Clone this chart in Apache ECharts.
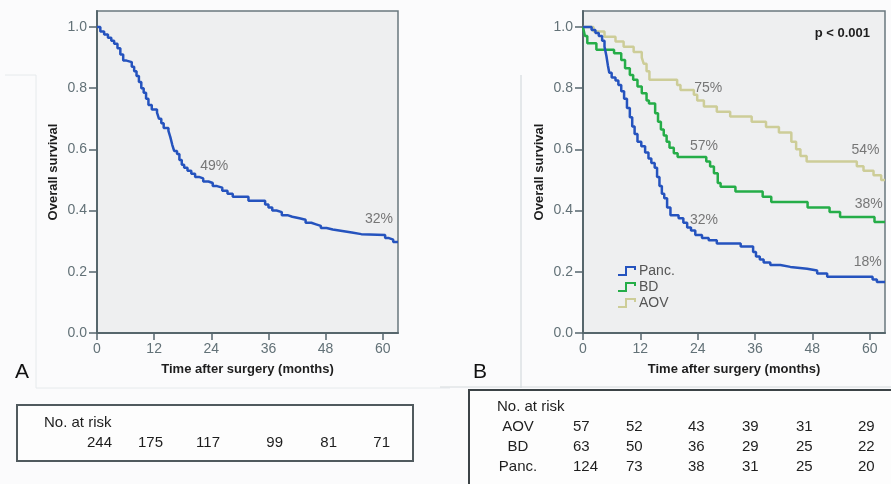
<!DOCTYPE html>
<html><head><meta charset="utf-8">
<script src="https://cdn.jsdelivr.net/npm/echarts@6/dist/echarts.min.js"></script>
<style>html,body{margin:0;padding:0;background:#fbfbfc;} #c{width:891px;height:484px;}</style>
</head><body><div id="c"></div>
<script>
// ---------- data ----------
const monthTicks = [0, 12, 24, 36, 48, 60];
const survivalTicks = [0, 0.2, 0.4, 0.6, 0.8, 1.0];

// [month, survival]
const overall = [[0,1.0],[0.7,0.985],[1.5,0.975],[2.3,0.965],[3.0,0.955],[3.6,0.945],[4.3,0.93],[4.9,0.91],[5.5,0.89],[6.2,0.885],[7.3,0.87],[7.8,0.855],[8.3,0.84],[8.8,0.82],[9.3,0.80],[9.8,0.785],[10.3,0.765],[10.8,0.745],[11.5,0.73],[12.6,0.72],[13.0,0.70],[13.5,0.685],[14.0,0.67],[15.0,0.66],[15.4,0.64],[15.8,0.615],[16.2,0.595],[16.8,0.585],[17.3,0.565],[17.8,0.55],[18.3,0.54],[19.0,0.53],[19.8,0.52],[20.6,0.51],[21.4,0.505],[22.3,0.495],[23.4,0.49],[24.3,0.48],[25.2,0.475],[26.3,0.465],[27.4,0.455],[28.5,0.445],[31.8,0.432],[35.3,0.42],[36.0,0.41],[36.8,0.40],[37.7,0.395],[38.8,0.385],[40.0,0.38],[41.0,0.375],[42.5,0.37],[43.8,0.36],[45.0,0.355],[46.0,0.35],[47.0,0.343],[48.2,0.338],[49.5,0.333],[51.5,0.328],[53.5,0.323],[55.5,0.32],[60.5,0.31],[61.3,0.305],[62.2,0.297],[63.2,0.295]];

const panc = [[0,1.0],[1.8,0.99],[2.6,0.98],[3.3,0.97],[4.0,0.955],[4.5,0.935],[4.9,0.905],[5.2,0.875],[5.5,0.85],[6.0,0.835],[6.8,0.825],[7.4,0.81],[8.0,0.79],[8.6,0.765],[9.2,0.735],[9.8,0.705],[10.3,0.675],[10.8,0.65],[11.4,0.625],[12.2,0.61],[13.0,0.59],[13.7,0.57],[14.3,0.555],[15.0,0.54],[15.5,0.51],[16.0,0.48],[16.5,0.455],[17.0,0.44],[17.6,0.41],[18.3,0.385],[20.0,0.375],[21.0,0.36],[21.8,0.345],[22.6,0.335],[23.5,0.32],[24.9,0.31],[26.3,0.303],[28.0,0.292],[33.0,0.283],[35.6,0.265],[36.2,0.25],[37.0,0.24],[37.8,0.23],[39.2,0.222],[41.3,0.216],[43.4,0.21],[46.9,0.204],[49.0,0.194],[51.1,0.184],[60.6,0.175],[61.5,0.167],[63.2,0.165]];

const bd = [[0,1.0],[0.4,0.97],[0.9,0.947],[2.8,0.925],[6.5,0.914],[8.0,0.892],[8.8,0.865],[9.8,0.843],[10.5,0.827],[11.4,0.805],[12.3,0.783],[13.3,0.76],[13.8,0.75],[15.1,0.718],[15.7,0.69],[16.3,0.665],[16.9,0.645],[17.5,0.625],[18.1,0.605],[19.0,0.587],[19.8,0.575],[25.8,0.56],[26.6,0.544],[27.4,0.522],[28.2,0.49],[28.8,0.478],[31.9,0.462],[37.6,0.445],[39.4,0.428],[47.0,0.41],[51.6,0.395],[53.8,0.379],[61.0,0.363],[63.2,0.363]];

const aov = [[0,1.0],[2.2,0.985],[4.5,0.968],[6.8,0.952],[8.5,0.935],[10.6,0.918],[12.3,0.9],[12.7,0.88],[13.3,0.855],[13.9,0.827],[19.7,0.81],[20.4,0.794],[23.2,0.778],[23.9,0.76],[25.3,0.74],[28.0,0.723],[30.8,0.707],[35.3,0.69],[38.3,0.673],[41.0,0.655],[43.6,0.625],[44.6,0.6],[45.5,0.578],[46.8,0.56],[57.3,0.545],[58.7,0.53],[60.8,0.515],[62.4,0.5],[63.2,0.5]];

const overallLabels = [[24.6, 0.546, '49%'], [59.2, 0.373, '32%']];
const groupLabels = [[26.2, 0.80, '75%'], [25.3, 0.609, '57%'], [25.3, 0.369, '32%'], [59.1, 0.598, '54%'], [59.8, 0.422, '38%'], [59.6, 0.233, '18%']];

const riskOverall = [244, 175, 117, 99, 81, 71];
const riskRowNames = ['AOV', 'BD', 'Panc.'];
const riskAOV = [57, 52, 43, 39, 31, 29];
const riskBD = [63, 50, 36, 29, 25, 22];
const riskPanc = [124, 73, 38, 31, 25, 20];
const legendNames = ['Panc.', 'BD', 'AOV'];

// ---------- style ----------
const AX = '#56666c';
const FONT = 'Liberation Sans, Arial, sans-serif';
const BLUE = '#2553be', GREEN = '#25ad48', KHAKI = '#cdcd98';

function xAx(gi) {
  return {gridIndex: gi, type: 'value', min: 0, max: 63.2,
    name: 'Time after surgery (months)', nameLocation: 'middle', nameGap: 30,
    nameTextStyle: {fontFamily: FONT, fontWeight: 'bold', fontSize: 13, color: '#1e1e1e'},
    axisLine: {show: true, onZero: false, lineStyle: {color: AX, width: 2}},
    axisTick: {show: true, length: 7, lineStyle: {color: AX, width: 1.5}, customValues: monthTicks},
    axisLabel: {customValues: monthTicks, margin: 9, color: '#627177', fontSize: 14, fontFamily: FONT},
    splitLine: {show: false}};
}
function yAx(gi) {
  return {gridIndex: gi, type: 'value', min: 0, max: 1.052,
    name: 'Overall survival', nameLocation: 'middle', nameGap: 37,
    nameTextStyle: {fontFamily: FONT, fontWeight: 'bold', fontSize: 13, color: '#1e1e1e'},
    axisLine: {show: true, onZero: false, lineStyle: {color: AX, width: 2}},
    axisTick: {show: true, length: 8, lineStyle: {color: AX, width: 1.5}, customValues: survivalTicks},
    axisLabel: {customValues: survivalTicks, margin: 10, color: '#627177', fontSize: 14, fontFamily: FONT,
      formatter: v => v.toFixed(1)},
    splitLine: {show: false}};
}
function km(name, data, color, gi) {
  return {name, type: 'line', xAxisIndex: gi, yAxisIndex: gi, data, step: 'end',
    showSymbol: false, symbol: 'none', color, lineStyle: {color, width: 2.5}, silent: true, animation: false};
}
function labels(arr, gi) {
  return {type: 'scatter', xAxisIndex: gi, yAxisIndex: gi, symbolSize: 0, silent: true, animation: false,
    data: arr.map(d => ({value: [d[0], d[1]], label: {formatter: d[2]}})),
    label: {show: true, position: 'inside', color: '#575757', fontSize: 14, fontFamily: FONT}};
}

// table graphics
const g = [];
const txt = (text, x, y, align, extra) => g.push(Object.assign({type: 'text', x, y, silent: true,
  style: {text, font: '15px ' + FONT, fill: '#1e1e1e', align: align, verticalAlign: 'middle'}}, extra || {}));
// faint frame lines of the original figure
g.push({type: 'polyline', silent: true, shape: {points: [[5, 75], [36, 75], [36, 388], [450, 388]]}, style: {stroke: '#e6eaec', lineWidth: 1, fill: null}});
g.push({type: 'line', silent: true, shape: {x1: 521, y1: 75, x2: 521, y2: 388}, style: {stroke: '#cdd4d8', lineWidth: 1}});
g.push({type: 'line', silent: true, shape: {x1: 440, y1: 387, x2: 891, y2: 387}, style: {stroke: '#d5dadd', lineWidth: 1}});
// panel letters
txt('A', 22, 372, 'center', {style: {text: 'A', font: '21px ' + FONT, fill: '#111', align: 'center', verticalAlign: 'middle'}});
txt('B', 480, 372, 'center', {style: {text: 'B', font: '21px ' + FONT, fill: '#111', align: 'center', verticalAlign: 'middle'}});
// p value
g.push({type: 'text', x: 870, y: 33, silent: true, style: {text: 'p < 0.001', font: 'bold 13px ' + FONT, fill: '#1e1e1e', align: 'right', verticalAlign: 'middle'}});
// left risk table
g.push({type: 'rect', silent: true, shape: {x: 17, y: 405, width: 396, height: 56}, style: {fill: '#fdfdfd', stroke: '#505a5e', lineWidth: 2}});
txt('No. at risk', 44, 423, 'left');
const leftColsRight = [112, 163, 220, 283, 337, 390];
riskOverall.forEach((v, i) => txt(String(v), leftColsRight[i], 443, 'right'));
// right risk table
g.push({type: 'rect', silent: true, shape: {x: 469, y: 390, width: 440, height: 110}, style: {fill: '#fdfdfd', stroke: '#3c4346', lineWidth: 2}});
txt('No. at risk', 497, 407, 'left');
const rowY = [427, 447, 467];
const rightColsLeft = [573, 626, 688, 742, 796, 858];
[riskAOV, riskBD, riskPanc].forEach((row, r) => {
  txt(riskRowNames[r], 518, rowY[r], 'center');
  row.forEach((v, i) => txt(String(v), rightColsLeft[i], rowY[r], 'left'));
});

const chart = echarts.init(document.getElementById('c'), null, {renderer: 'canvas'});
chart.setOption({
  animation: false,
  backgroundColor: '#fbfbfc',
  grid: [
    {left: 97, top: 11, width: 301, height: 322, show: true, backgroundColor: '#eeeff0', borderColor: '#6a787d', borderWidth: 1.5},
    {left: 583, top: 11, width: 302, height: 322, show: true, backgroundColor: '#eeeff0', borderColor: '#6a787d', borderWidth: 1.5}
  ],
  xAxis: [xAx(0), xAx(1)],
  yAxis: [yAx(0), yAx(1)],
  legend: {data: legendNames, orient: 'vertical', left: 613, top: 259, itemWidth: 22, itemHeight: 10, itemGap: 2,
    icon: 'path://M0,8 L7,8 L7,0 L18,0 L18,4 L16,4 L16,2 L9,2 L9,10 L0,10 Z',
    textStyle: {fontSize: 14, color: '#555', fontFamily: FONT, padding: [0, 0, 0, -4]}, selectedMode: false},
  series: [
    km('Overall', overall, BLUE, 0),
    km('AOV', aov, KHAKI, 1),
    km('BD', bd, GREEN, 1),
    km('Panc.', panc, BLUE, 1),
    labels(overallLabels, 0),
    labels(groupLabels, 1)
  ],
  graphic: g
});
</script></body></html>
